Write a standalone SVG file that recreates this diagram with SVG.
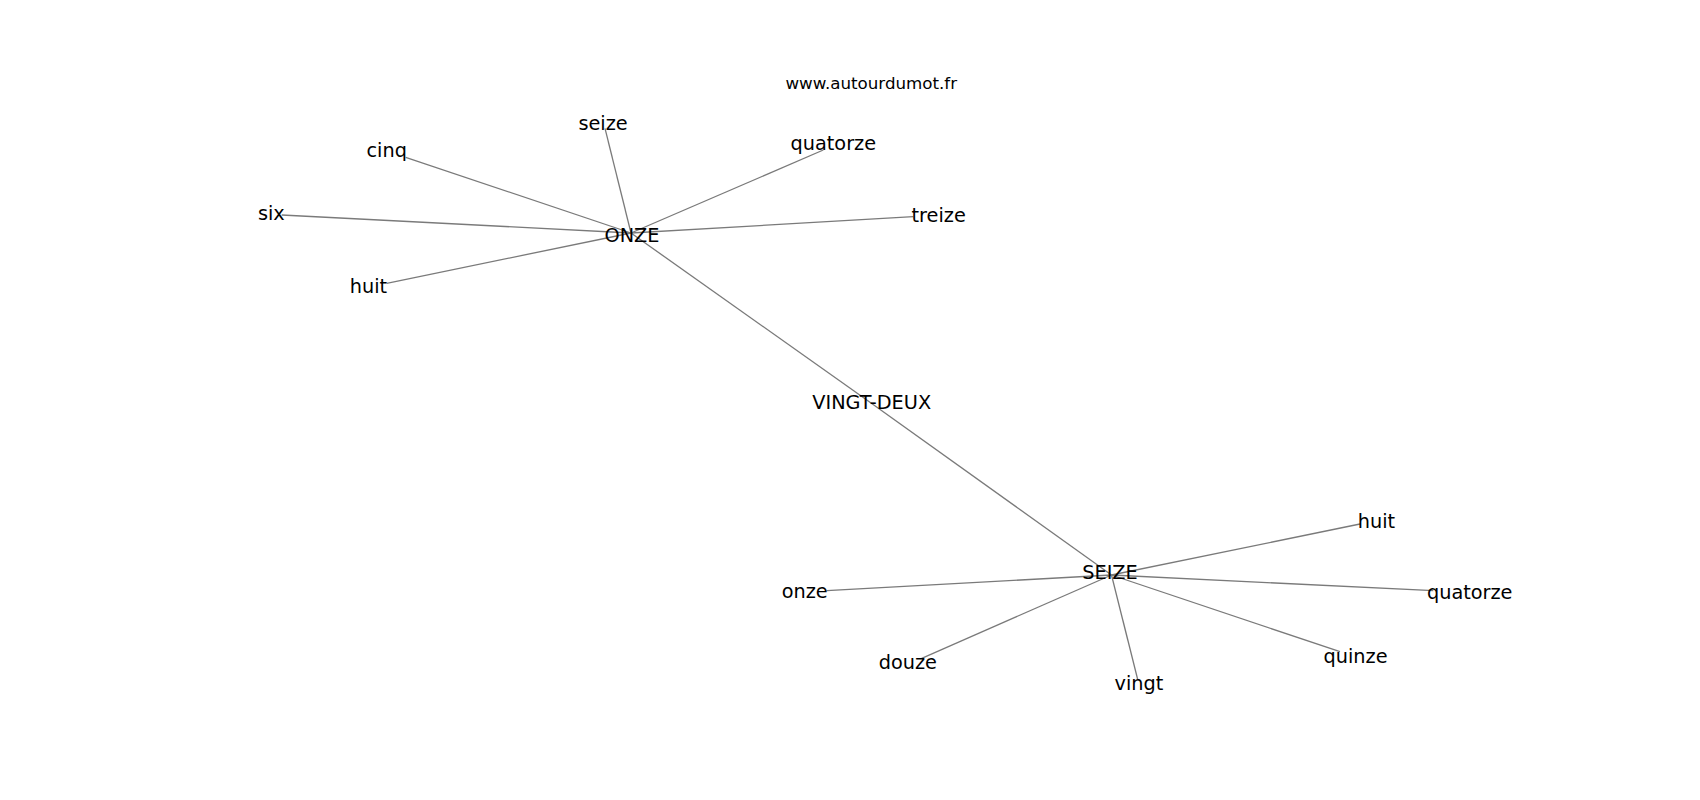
<svg xmlns="http://www.w3.org/2000/svg" width="1700" height="800" viewBox="0 0 1700 800">
<style>
.e{stroke:#7a7a7a;stroke-width:1.3;fill:none}
.t{font-family:"DejaVu Sans",sans-serif;font-size:19.3px;fill:#000;text-anchor:middle}
.w{font-family:"DejaVu Sans",sans-serif;font-size:16.7px;fill:#000;text-anchor:middle}
</style>
<rect width="1700" height="800" fill="#fff"/>
<g id="connectors">
<line class="e" x1="631" y1="233" x2="405.7" y2="157.3"/>
<line class="e" x1="631" y1="233" x2="281.7" y2="215"/>
<line class="e" x1="631" y1="233" x2="386.7" y2="283.3"/>
<line class="e" x1="631" y1="233" x2="605" y2="128.3"/>
<line class="e" x1="631" y1="233" x2="823.3" y2="150"/>
<line class="e" x1="631" y1="233" x2="913.3" y2="216.7"/>
<line class="e" x1="631" y1="233" x2="871" y2="403"/>
<line class="e" x1="871" y1="403" x2="1111.5" y2="575"/>
<line class="e" x1="1111.5" y1="575" x2="826.7" y2="590.7"/>
<line class="e" x1="1111.5" y1="575" x2="921.7" y2="658.3"/>
<line class="e" x1="1111.5" y1="575" x2="1137.7" y2="679.5"/>
<line class="e" x1="1111.5" y1="575" x2="1360" y2="524"/>
<line class="e" x1="1111.5" y1="575" x2="1433.3" y2="590.7"/>
<line class="e" x1="1111.5" y1="575" x2="1340" y2="651.7"/>
</g>
<g id="watermark"><text class="w" x="871.3" y="88.5">www.autourdumot.fr</text></g>
<g id="n-onze-main"><text class="t" x="632" y="241.5">ONZE</text></g>
<g id="n-cinq"><text class="t" x="386.7" y="157">cinq</text></g>
<g id="n-six"><text class="t" x="271.3" y="220.3">six</text></g>
<g id="n-huit1"><text class="t" x="368.5" y="292.6">huit</text></g>
<g id="n-seize"><text class="t" x="603" y="130.3">seize</text></g>
<g id="n-quatorze1"><text class="t" x="833.3" y="150.3">quatorze</text></g>
<g id="n-treize"><text class="t" x="938.7" y="222">treize</text></g>
<g id="n-vingt-deux"><text class="t" x="871.7" y="409.3">VINGT-DEUX</text></g>
<g id="n-seize-main"><text class="t" x="1110" y="578.6">SEIZE</text></g>
<g id="n-onze"><text class="t" x="804.7" y="597.6">onze</text></g>
<g id="n-douze"><text class="t" x="907.8" y="669">douze</text></g>
<g id="n-vingt"><text class="t" x="1139" y="690">vingt</text></g>
<g id="n-huit2"><text class="t" x="1376.5" y="527.6">huit</text></g>
<g id="n-quatorze2"><text class="t" x="1469.7" y="599.3">quatorze</text></g>
<g id="n-quinze"><text class="t" x="1355.5" y="663">quinze</text></g>
</svg>
